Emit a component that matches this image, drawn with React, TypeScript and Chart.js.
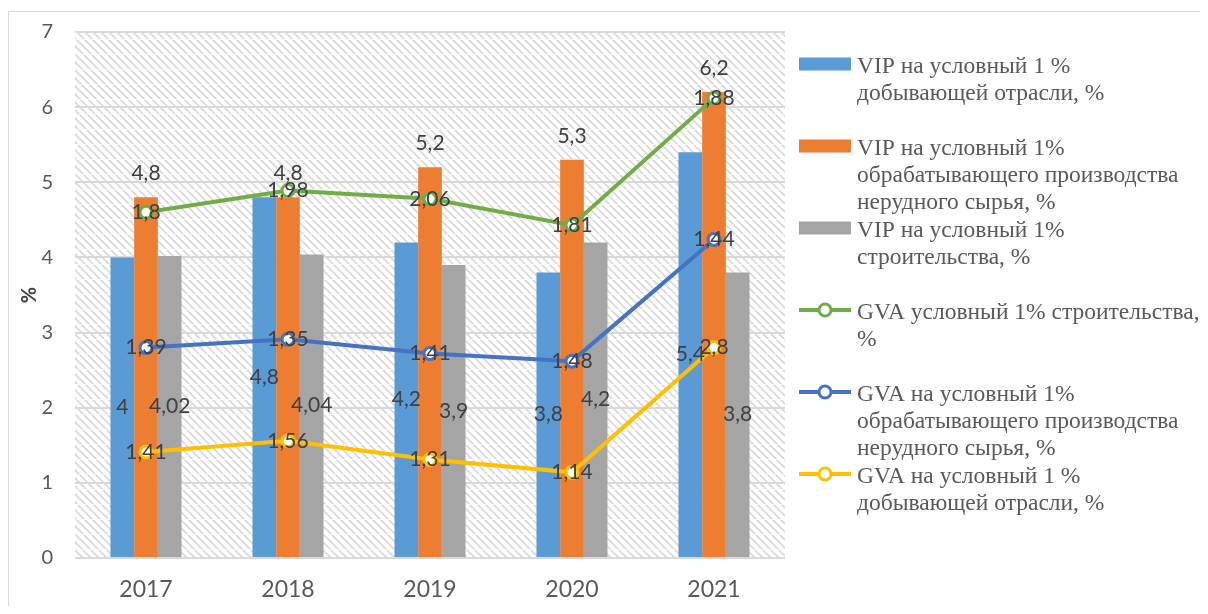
import React, { useEffect, useRef } from 'react';
import { Chart, registerables } from 'chart.js';

Chart.register(...registerables);

// ---- data ----
const years = ['2017', '2018', '2019', '2020', '2021'];
const vipMining = [4, 4.8, 4.2, 3.8, 5.4];
const vipProcessing = [4.8, 4.8, 5.2, 5.3, 6.2];
const vipConstruction = [4.02, 4.04, 3.9, 4.2, 3.8];
const gvaMining = [1.41, 1.56, 1.31, 1.14, 2.8];
const gvaProcessing = [1.39, 1.35, 1.41, 1.48, 1.44];
const gvaConstruction = [1.8, 1.98, 2.06, 1.81, 1.88];
const yTicks = [0, 1, 2, 3, 4, 5, 6, 7];

const nameVipMining = ['VIP на условный 1 %', 'добывающей отрасли, %'];
const nameVipProcessing = ['VIP на условный 1%', 'обрабатывающего производства', 'нерудного сырья, %'];
const nameVipConstruction = ['VIP на условный 1%', 'строительства, %'];
const nameGvaConstruction = ['GVA условный 1% строительства,', '%'];
const nameGvaProcessing = ['GVA на условный 1%', 'обрабатывающего производства', 'нерудного сырья, %'];
const nameGvaMining = ['GVA на условный 1 %', 'добывающей отрасли, %'];

const fmt = (v: number) => String(v).replace('.', ',');

function makePattern(ctx: CanvasRenderingContext2D) {
  const n = 120;
  const c = document.createElement('canvas');
  c.width = n;
  c.height = n;
  const g = c.getContext('2d')!;
  const img = g.createImageData(n, n);
  for (let y = 0; y < n; y++) {
    for (let x = 0; x < n; x++) {
      const d = (((x - y) % 8) + 8) % 8;
      let v = d < 3 ? 224 : 255;
      if (y % 15 === 0) v = 250;
      const o = (y * n + x) * 4;
      img.data[o] = v;
      img.data[o + 1] = v;
      img.data[o + 2] = v;
      img.data[o + 3] = 255;
    }
  }
  g.putImageData(img, 0, 0);
  return ctx.createPattern(c, 'repeat');
}

const backgroundPlugin = {
  id: 'bgPattern',
  beforeDraw(chart: any) {
    const { ctx, chartArea: a, width, height } = chart;
    ctx.save();
    ctx.strokeStyle = '#d9d9d9';
    ctx.lineWidth = 1;
    ctx.strokeRect(0.5, 3.5, width + 20, height + 20);
    const p = makePattern(ctx);
    if (p) {
      ctx.translate(a.left, a.top + 7);
      ctx.fillStyle = p;
      ctx.fillRect(0, -7, a.right - a.left, a.bottom - a.top);
    }
    ctx.restore();
  },
};

const labelPlugin = {
  id: 'valueLabels',
  afterDatasetsDraw(chart: any) {
    const ctx = chart.ctx;
    ctx.save();
    ctx.fillStyle = '#404040';
    ctx.font = '21px Lato';
    ctx.textAlign = 'center';
    ctx.textBaseline = 'middle';
    chart.data.datasets.forEach((ds: any, di: number) => {
      const meta = chart.getDatasetMeta(di);
      meta.data.forEach((el: any, i: number) => {
        const v = ds.data[i];
        let y = el.y;
        if (ds.labelPos === 'center') y = (el.y + el.base) / 2;
        else if (ds.labelPos === 'end') y = el.y - 24;
        ctx.fillText(fmt(v), el.x, y);
      });
    });
    ctx.restore();
  },
};

const legendPlugin = {
  id: 'sideLegend',
  afterDraw(chart: any) {
    const ctx = chart.ctx;
    const a = chart.chartArea;
    const order: number[] = chart.options.plugins.sideLegend.order;
    const mx = a.right + 14;
    const tx = a.right + 72;
    ctx.save();
    order.forEach((di, k) => {
      const ds = chart.data.datasets[di];
      const base = 65 + k * 82;
      const my = base - 9;
      if (ds.type === 'bar') {
        ctx.fillStyle = ds.backgroundColor;
        ctx.fillRect(mx, my - 6.5, 52, 13);
      } else {
        ctx.strokeStyle = ds.borderColor;
        ctx.lineWidth = 4;
        ctx.beginPath();
        ctx.moveTo(mx, my);
        ctx.lineTo(mx + 52, my);
        ctx.stroke();
        ctx.beginPath();
        ctx.arc(mx + 26, my, 6, 0, Math.PI * 2);
        ctx.fillStyle = '#ffffff';
        ctx.fill();
        ctx.lineWidth = 3;
        ctx.stroke();
      }
      ctx.fillStyle = '#595959';
      ctx.font = '23.5px "Liberation Serif"';
      ctx.textAlign = 'left';
      ctx.textBaseline = 'alphabetic';
      (ds.legendLines as string[]).forEach((line, j) => {
        ctx.fillText(line, tx, base + j * 27);
      });
    });
    ctx.restore();
  },
};

export default function App() {
  const ref = useRef<HTMLCanvasElement>(null);

  useEffect(() => {
    if (!ref.current) return;
    const chart = new Chart(ref.current, {
      type: 'bar',
      data: {
        labels: years,
        datasets: [
          {
            type: 'bar',
            label: nameVipMining.join(' '),
            data: vipMining,
            backgroundColor: '#5b9bd5',
            stack: 'b0',
            order: 2,
            labelPos: 'center',
            legendLines: nameVipMining,
          } as any,
          {
            type: 'bar',
            label: nameVipProcessing.join(' '),
            data: vipProcessing,
            backgroundColor: '#ed7d31',
            stack: 'b1',
            order: 2,
            labelPos: 'end',
            legendLines: nameVipProcessing,
          } as any,
          {
            type: 'bar',
            label: nameVipConstruction.join(' '),
            data: vipConstruction,
            backgroundColor: '#a5a5a5',
            stack: 'b2',
            order: 2,
            labelPos: 'center',
            legendLines: nameVipConstruction,
          } as any,
          {
            type: 'line',
            label: nameGvaMining.join(' '),
            data: gvaMining,
            borderColor: '#ffc000',
            backgroundColor: '#ffc000',
            stack: 'lines',
            order: 1,
            legendLines: nameGvaMining,
          } as any,
          {
            type: 'line',
            label: nameGvaProcessing.join(' '),
            data: gvaProcessing,
            borderColor: '#4472c4',
            backgroundColor: '#4472c4',
            stack: 'lines',
            order: 1,
            legendLines: nameGvaProcessing,
          } as any,
          {
            type: 'line',
            label: nameGvaConstruction.join(' '),
            data: gvaConstruction,
            borderColor: '#70ad47',
            backgroundColor: '#70ad47',
            stack: 'lines',
            order: 1,
            legendLines: nameGvaConstruction,
          } as any,
        ],
      },
      options: {
        animation: false,
        responsive: true,
        maintainAspectRatio: false,
        layout: { padding: { left: 0, right: 423, top: 24, bottom: 0 } },
        datasets: {
          bar: { categoryPercentage: 0.5, barPercentage: 1, borderWidth: 0 },
          line: {
            borderWidth: 4,
            tension: 0,
            pointRadius: 6,
            pointBorderWidth: 3,
            pointBackgroundColor: '#ffffff',
            pointHoverRadius: 6,
          },
        } as any,
        plugins: {
          legend: { display: false },
          tooltip: { enabled: false },
          sideLegend: { order: [0, 1, 2, 5, 4, 3] },
        } as any,
        scales: {
          x: {
            stacked: false,
            grid: { display: false, drawTicks: false },
            border: { display: false },
            ticks: { color: '#595959', font: { family: 'Lato', size: 23 }, padding: 18 },
            afterFit: (s: any) => {
              s.height = 48;
              s.paddingLeft = 0;
              s.paddingRight = 0;
            },
          },
          y: {
            stacked: true,
            min: yTicks[0],
            max: yTicks[yTicks.length - 1],
            afterBuildTicks: (s: any) => {
              s.ticks = yTicks.map((v) => ({ value: v }));
            },
            grid: { color: '#d9d9d9', lineWidth: 2, drawTicks: false },
            border: { display: false },
            ticks: { color: '#595959', font: { family: 'Lato', size: 20 }, padding: 22 },
            title: {
              display: true,
              text: '%',
              color: '#404040',
              font: { family: 'Lato', size: 20, weight: 'bold' },
              padding: { top: 10, bottom: 0 },
            },
            afterFit: (s: any) => {
              s.width = 67;
              s.paddingTop = 0;
              s.paddingBottom = 0;
            },
          },
        },
      },
      plugins: [backgroundPlugin, labelPlugin, legendPlugin],
    });
    return () => chart.destroy();
  }, []);

  return (
    <div style={{ position: 'relative', width: 1200, height: 598 }}>
      <canvas ref={ref} />
    </div>
  );
}
